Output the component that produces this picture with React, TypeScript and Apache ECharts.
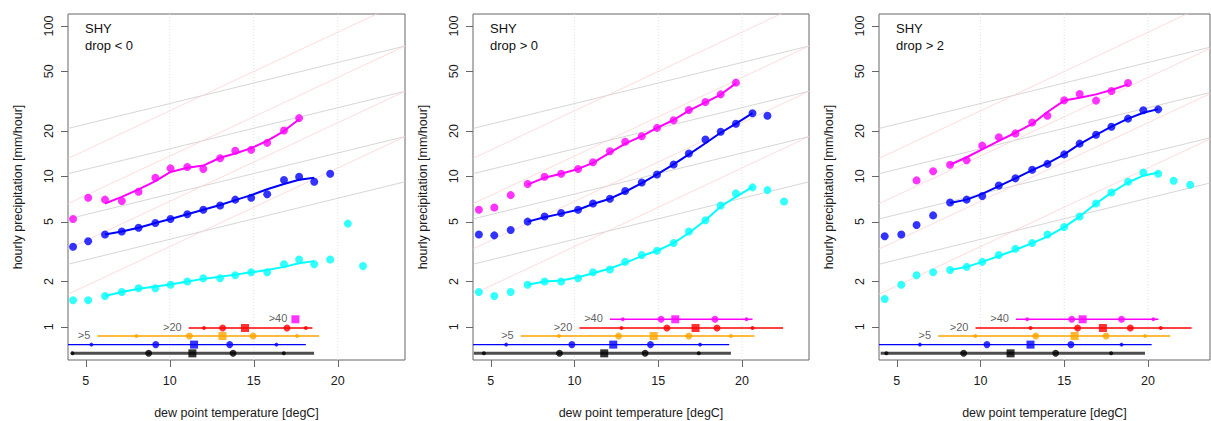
import React, { useEffect, useRef } from "react";
import * as echarts from "echarts";

// ---------- data ----------
const panelTitles = ["SHY\ndrop < 0", "SHY\ndrop > 0", "SHY\ndrop > 2"];
const xTickValues = [5, 10, 15, 20];
const yTickValues = [1, 2, 5, 10, 20, 50, 100];
const vGridValues = [10, 15, 20];

// dew point bin centres per panel
const x1 = [4.25, 5.15, 6.15, 7.15, 8.15, 9.15, 10.05, 11.05, 12.0, 13.0, 13.9, 14.85, 15.8, 16.8, 17.7, 18.6, 19.55, 20.6, 21.5];
const x2 = [4.3, 5.22, 6.2, 7.21, 8.22, 9.21, 10.22, 11.11, 12.12, 13.03, 14.02, 14.93, 15.92, 16.83, 17.82, 18.73, 19.64, 20.63, 21.52, 22.51];
const x3 = [4.29, 5.28, 6.19, 7.18, 8.19, 9.18, 10.11, 11.1, 12.09, 13.09, 14.0, 15.0, 15.92, 16.9, 17.82, 18.81, 19.72, 20.61, 21.53, 22.52];

// panel 1: drop < 0
const magenta1 = [5.2, 7.2, 7.0, 6.85, 7.9, 9.8, 11.3, 11.55, 11.2, 13.2, 14.8, 15.0, 16.7, 20.2, 24.4, null, null, null, null];
const magentaFit1 = [null, null, 6.6, 7.3, 8.2, 9.3, 10.7, 11.4, 11.8, 13.3, 14.2, 15.4, 17.2, 20.0, 24.0, null, null, null, null];
const blue1 = [3.4, 3.7, 4.1, 4.3, 4.55, 4.9, 5.2, 5.6, 6.0, 6.4, 7.0, 7.2, 7.6, 9.45, 9.95, 9.2, 10.4, null, null];
const blueFit1 = [null, null, 4.1, 4.3, 4.55, 4.9, 5.2, 5.6, 6.0, 6.45, 6.95, 7.5, 8.2, 8.9, 9.5, 9.8, null, null, null];
const cyan1 = [1.5, 1.5, 1.6, 1.7, 1.8, 1.8, 1.9, 2.0, 2.1, 2.1, 2.2, 2.3, 2.3, 2.6, 2.8, 2.6, 2.8, 4.85, 2.53];
const cyanFit1 = [null, null, 1.6, 1.7, 1.79, 1.85, 1.91, 2.0, 2.08, 2.15, 2.22, 2.3, 2.38, 2.5, 2.64, 2.73, null, null, null];

// panel 2: drop > 0
const magenta2 = [6.0, 6.2, 7.5, 8.9, 9.95, 10.4, 11.2, 12.4, 14.7, 17.0, 18.5, 21.0, 23.6, 27.6, 31.2, 35.1, 42.0, null, null, null];
const magentaFit2 = [null, null, null, 8.8, 9.8, 10.4, 11.2, 12.3, 14.4, 16.5, 18.5, 21.0, 23.7, 27.4, 31.0, 35.0, 41.5, null, null, null];
const blue2 = [4.1, 4.05, 4.4, 5.0, 5.4, 5.7, 6.0, 6.6, 7.1, 8.0, 9.1, 10.3, 12.0, 14.2, 17.6, 19.8, 22.4, 26.3, 25.3, null];
const blueFit2 = [null, null, null, 5.0, 5.35, 5.65, 6.0, 6.55, 7.1, 7.9, 9.0, 10.3, 12.0, 14.0, 16.6, 19.5, 22.4, 26.3, null, null];
const cyan2 = [1.7, 1.6, 1.7, 1.9, 2.0, 2.0, 2.1, 2.3, 2.4, 2.7, 3.0, 3.2, 3.6, 4.3, 5.1, 6.4, 7.7, 8.45, 8.1, 6.8];
const cyanFit2 = [null, null, null, 1.9, 2.0, 2.03, 2.13, 2.27, 2.44, 2.66, 2.95, 3.2, 3.6, 4.2, 5.1, 6.3, 7.3, 8.5, null, null];

// panel 3: drop > 2
const magenta3 = [null, null, 9.4, 10.8, 11.95, 12.8, 16.0, 18.2, 19.3, 22.8, 25.3, 32.1, 35.3, 31.9, 37.0, 41.8, null, null, null, null];
const magentaFit3 = [null, null, null, null, 11.95, 13.4, 15.1, 17.2, 19.5, 22.3, 26.8, 31.9, 33.3, 35.1, 37.5, 40.9, null, null, null, null];
const blue3 = [4.0, 4.1, 4.75, 5.5, 6.7, 7.0, 7.4, 8.7, 9.7, 11.07, 12.1, 14.0, 16.5, 18.9, 21.4, 24.2, 27.5, 27.9, null, null];
const blueFit3 = [null, null, null, null, 6.65, 7.0, 7.65, 8.6, 9.7, 11.0, 12.2, 14.0, 16.4, 18.9, 21.4, 24.2, 26.5, 28.0, null, null];
const cyan3 = [1.53, 1.9, 2.2, 2.3, 2.38, 2.5, 2.7, 3.0, 3.3, 3.6, 4.1, 4.6, 5.4, 6.6, 7.8, 9.2, 10.6, 10.4, 9.35, 8.8];
const cyanFit3 = [null, null, null, null, 2.38, 2.5, 2.7, 2.95, 3.24, 3.6, 3.97, 4.6, 5.4, 6.6, 7.8, 9.1, 10.1, 10.6, null, null];

// distribution rows: [min, p05, q25, median, q75, p95, max]
const rowLevels = [0.665, 0.76, 0.867, 0.98, 1.12];
const rowNames = ["", "", ">5", ">20", ">40"];
const rows1 = [
  [4.15, 4.21, 8.75, 11.35, 13.77, 16.79, 18.59],
  [3.5, 5.34, 9.17, 11.45, 13.57, 16.35, 18.1],
  [5.7, 8.02, 11.17, 13.14, 14.96, 17.58, 18.89],
  [11.13, 12.04, 13.15, 14.48, 16.98, 18.1, 18.49],
  [null, null, null, 17.48, null, null, null],
];
const rows2 = [
  [4.0, 4.6, 9.11, 11.78, 14.22, 17.42, 19.34],
  [3.5, 5.93, 9.85, 12.32, 14.54, 17.5, 19.24],
  [6.8, 9.08, 12.64, 14.73, 16.83, 19.34, 20.74],
  [10.3, 12.81, 15.52, 17.23, 18.51, 20.63, 22.45],
  [12.12, 12.89, 15.17, 16.02, 18.39, 20.27, 20.63],
];
const rows3 = [
  [4.05, 4.39, 9.0, 11.8, 14.49, 17.8, 19.82],
  [3.5, 6.39, 10.39, 12.99, 15.4, 18.42, 20.22],
  [7.48, 9.7, 13.3, 15.62, 17.5, 19.82, 21.33],
  [9.71, 12.99, 15.8, 17.31, 18.95, 20.76, 22.6],
  [12.12, 12.79, 15.45, 16.1, 18.42, 20.32, 20.62],
];

// scaling reference lines: value at anchor temperature and rate per degree
const refAnchorX = 24;
const ccAnchors = [9.2, 18.4, 36.8, 73.6];
const ccRate = 1.065;
const cc2Anchors = [18.4, 36.8, 73.6, 147.2];
const cc2Rate = 1.128;

// ---------- layout / style ----------
const FONT = '"Liberation Sans", Arial, Helvetica, sans-serif';
const panelLeft = [68, 473, 879];
const panelWidth = [337, 336, 331];
const xMin = 3.95;
const xMaxs = [24.0, 24.0, 23.7];
const gridTop = 14;
const gridHeight = 346;
const yMin = -0.2215;
const yMax = 2.0798;
const TICK_PX = 7;
const AXIS_GREY = "#666666";
const rowColors = ["#000000", "#0000ff", "#ffa500", "#ff0000", "#ff00ff"];
const rowLineColors = ["#4d4d4d", "#0000ff", "#ffa500", "#ff0000", "#ff00ff"];
const rowLineWidths = [3, 1.4, 1.4, 1.4, 1.4];

const L = (v: number) => Math.log10(v);

function pointsData(xs: number[], ys: (number | null)[]) {
  const out: any[] = [];
  xs.forEach((x, i) => {
    const y = ys[i];
    if (y != null) out.push([x, L(y)]);
  });
  return out;
}

function buildOption() {
  const panels = [
    { xs: x1, m: magenta1, mf: magentaFit1, b: blue1, bf: blueFit1, c: cyan1, cf: cyanFit1, rows: rows1 },
    { xs: x2, m: magenta2, mf: magentaFit2, b: blue2, bf: blueFit2, c: cyan2, cf: cyanFit2, rows: rows2 },
    { xs: x3, m: magenta3, mf: magentaFit3, b: blue3, bf: blueFit3, c: cyan3, cf: cyanFit3, rows: rows3 },
  ];
  const grid: any[] = [];
  const xAxis: any[] = [];
  const yAxis: any[] = [];
  const series: any[] = [];
  const title: any[] = [];
  const tickLabelStyle = { fontFamily: FONT, fontSize: 12.5, color: "#1a1a1a" };

  panels.forEach((p, i) => {
    const xMax = xMaxs[i];
    grid.push({
      left: panelLeft[i], top: gridTop, width: panelWidth[i], height: gridHeight,
      containLabel: false, outerBoundsMode: "none",
      show: true, borderColor: AXIS_GREY, borderWidth: 1, backgroundColor: "transparent",
    });
    xAxis.push({
      gridIndex: i, type: "value", min: xMin, max: xMax, position: "bottom",
      axisLine: { show: false, onZero: false },
      axisTick: { show: false },
      axisLabel: { show: true, customValues: xTickValues, margin: 14, ...tickLabelStyle },
      splitLine: { show: false },
      name: "dew point temperature [degC]", nameLocation: "middle", nameGap: 46,
      nameTextStyle: { ...tickLabelStyle, fontSize: 12.5 },
    });
    yAxis.push({
      gridIndex: i, type: "value", min: yMin, max: yMax, position: "left",
      axisLine: { show: false, onZero: false },
      axisTick: { show: false },
      axisLabel: {
        show: true, customValues: yTickValues.map(L), rotate: 90, margin: 13,
        formatter: (v: number) => String(Math.round(Math.pow(10, v))), ...tickLabelStyle,
      },
      splitLine: { show: false },
      name: "hourly precipitation [mm/hour]", nameLocation: "middle", nameGap: 44, nameRotate: 90,
      nameTextStyle: { ...tickLabelStyle, fontSize: 12.5 },
    });
    title.push({
      text: panelTitles[i], left: panelLeft[i] + 17, top: 20, padding: 0,
      textStyle: { fontFamily: FONT, fontSize: 13, fontWeight: "normal", color: "#111", lineHeight: 17 },
    });

    const ax = { xAxisIndex: i, yAxisIndex: i };
    // vertical dotted grid
    vGridValues.forEach((v) => {
      series.push({
        type: "line", ...ax, silent: true, symbol: "none", z: 1,
        data: [[v, yMin], [v, yMax]],
        lineStyle: { color: "#e0e0e0", width: 1, type: [1, 2] },
      });
    });
    // scaling lines
    const refLine = (c: number, r: number, color: string) => {
      series.push({
        type: "line", ...ax, silent: true, symbol: "none", z: 1, clip: true,
        data: [
          [xMin, L(c * Math.pow(r, xMin - refAnchorX))],
          [xMax, L(c * Math.pow(r, xMax - refAnchorX))],
        ],
        lineStyle: { color, width: 0.8 },
      });
    };
    ccAnchors.forEach((c) => refLine(c, ccRate, "#cccccc"));
    cc2Anchors.forEach((c) => refLine(c, cc2Rate, "#fcd3d3"));

    // distribution rows
    p.rows.forEach((row, r) => {
      const y = L(rowLevels[r]);
      const [lo, p05, q25, med, q75, p95, hi] = row;
      if (lo != null && hi != null) {
        series.push({
          type: "line", ...ax, silent: true, symbol: "none", z: 3, clip: true,
          data: [[Math.max(lo, xMin), y], [hi, y]],
          lineStyle: { color: rowLineColors[r], width: rowLineWidths[r] },
        });
      }
      const smalls = [p05, p95].filter((v) => v != null).map((v) => [v, y]);
      const mids = [q25, q75].filter((v) => v != null).map((v) => [v, y]);
      series.push({ type: "scatter", ...ax, silent: true, z: 4, symbol: "circle", symbolSize: 4, data: smalls, itemStyle: { color: rowColors[r] } });
      series.push({ type: "scatter", ...ax, silent: true, z: 4, symbol: "circle", symbolSize: 7, data: mids, itemStyle: { color: rowColors[r] } });
      series.push({ type: "scatter", ...ax, silent: true, z: 5, symbol: "rect", symbolSize: 8, data: [[med, y]], itemStyle: { color: rowColors[r] } });
      if (rowNames[r]) {
        const labelX = row[0] == null ? med : row[0];
        series.push({
          type: "scatter", ...ax, silent: true, z: 5, symbolSize: 0.1, data: [[labelX, y]],
          itemStyle: { color: "transparent" },
          label: {
            show: true, position: "left", distance: row[0] == null ? 8 : 7, offset: [0, -1],
            formatter: rowNames[r], fontFamily: FONT, fontSize: 11, color: "#333",
          },
        });
      }
    });

    // fits and points
    const groups: [any[], any[], string][] = [
      [p.c, p.cf, "#00ffff"],
      [p.b, p.bf, "#0000ff"],
      [p.m, p.mf, "#ff00ff"],
    ];
    groups.forEach(([pts, fit, color]) => {
      series.push({
        type: "line", ...ax, silent: true, symbol: "none", z: 6,
        data: pointsData(p.xs, fit), lineStyle: { color, width: 2 },
      });
      series.push({
        type: "scatter", ...ax, silent: true, z: 7, symbol: "circle", symbolSize: 8,
        data: pointsData(p.xs, pts), itemStyle: { color },
      });
    });
  });

  return { animation: false, backgroundColor: "#ffffff", title, grid, xAxis, yAxis, series };
}

// tick marks placed through the chart's own coordinate conversion
function buildTicks(chart: any) {
  const els: any[] = [];
  for (let i = 0; i < 3; i++) {
    xTickValues.forEach((v) => {
      const pt = chart.convertToPixel({ xAxisIndex: i, yAxisIndex: i }, [v, yMin]);
      if (!pt) return;
      els.push({
        type: "line", silent: true, z: 100,
        shape: { x1: Math.round(pt[0]) + 0.5, y1: pt[1], x2: Math.round(pt[0]) + 0.5, y2: pt[1] + TICK_PX },
        style: { stroke: AXIS_GREY, lineWidth: 1 },
      });
    });
    yTickValues.forEach((v) => {
      const pt = chart.convertToPixel({ xAxisIndex: i, yAxisIndex: i }, [xMin, L(v)]);
      if (!pt) return;
      els.push({
        type: "line", silent: true, z: 100,
        shape: { x1: pt[0] - TICK_PX, y1: Math.round(pt[1]) + 0.5, x2: pt[0], y2: Math.round(pt[1]) + 0.5 },
        style: { stroke: AXIS_GREY, lineWidth: 1 },
      });
    });
  }
  return els;
}

export default function App() {
  const ref = useRef<HTMLDivElement>(null);
  useEffect(() => {
    if (!ref.current) return;
    const chart = echarts.init(ref.current, null, { renderer: "svg" });
    chart.setOption(buildOption() as any);
    chart.setOption({ graphic: { elements: buildTicks(chart) } } as any);
    return () => chart.dispose();
  }, []);
  return (
    <div
      ref={ref}
      style={{ position: "fixed", left: 0, top: 0, width: 1211, height: 421, background: "#fff" }}
    />
  );
}
